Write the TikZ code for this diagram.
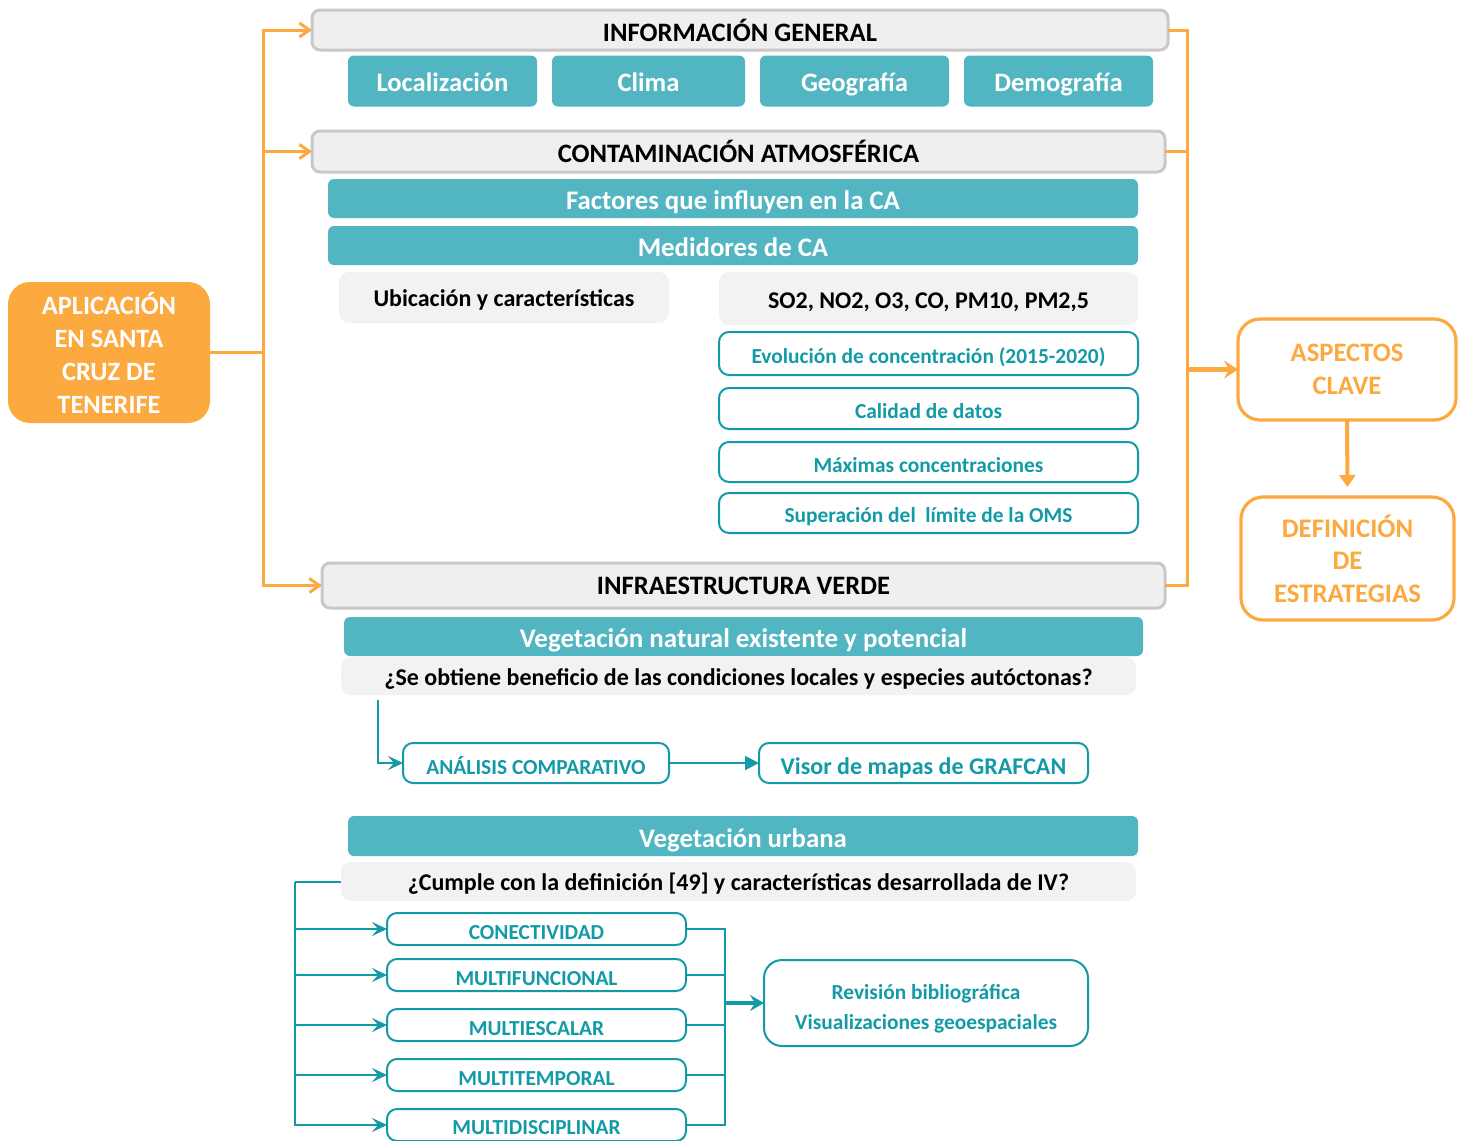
\documentclass[tikz,border=0pt]{standalone}
\usepackage{fontspec}
\setmainfont{Carlito}
\usetikzlibrary{arrows.meta}

\definecolor{naranja}{RGB}{252,169,64}
\definecolor{turquesa}{RGB}{82,181,194}
\definecolor{tealine}{RGB}{18,154,166}
\definecolor{grisborde}{RGB}{200,200,200}
\definecolor{grisfondo}{RGB}{239,239,239}
\definecolor{grisclaro}{RGB}{242,242,242}

\begin{document}
\begin{tikzpicture}[x=0.5pt,y=-0.5pt,
	every node/.style={outer sep=0pt, inner sep=2pt},
	sz/.style 2 args={minimum width=#1*0.5pt, minimum height=#2*0.5pt},
	fs/.style 2 args={font=\fontsize{#1}{#2}\selectfont\bfseries},
	baja/.code={\def\bajada{#1}},   % how far the text sits below the centre
	bajar/.style={baja=1.5pt, execute at begin node={\setbox0=\hbox\bgroup},
		execute at end node={\egroup\setbox2=\hbox{\lower\bajada\copy0}\ht2=\ht0\dp2=\dp0\box2}},
	cabecera/.style={draw=grisborde, fill=grisfondo, line width=1.5pt, rounded corners=4pt, fs={13.3}{15}},
	relleno/.style={fill=turquesa, text=white, rounded corners=3pt, bajar},
	pregunta/.style={fill=grisclaro, rounded corners=5pt, fs={12}{14}, bajar},
	marco/.style={draw=tealine, line width=1pt, text=tealine, rounded corners=5pt, fs={10.7}{13}, bajar},
	bloque/.style={draw=naranja, line width=1.6pt, fill=white, text=naranja, rounded corners=11pt, align=center},
	linnar/.style={draw=naranja, line width=1.5pt},
	flechanar/.style={linnar, -{Straight Barb[length=5pt,width=7pt]}},
	lintur/.style={draw=tealine, line width=1pt},
	flechatur/.style={lintur, -{Stealth[length=7.5pt,width=7pt,inset=3pt]}}]

	\useasboundingbox (0,0) rectangle (1466,1140);   % page = reference frame

	% left block and the three headers
	\node[fill=naranja, text=white, rounded corners=11pt, align=center, sz={202}{141}, fs={13.2}{16.5}] (aplicacion) at (109,352.5) {APLICACIÓN\\EN SANTA\\CRUZ DE\\TENERIFE};
	\node[cabecera, sz={856}{40}] (info) at (740,30) {INFORMACIÓN GENERAL};
	\node[cabecera, sz={853}{41}] (conta) at (738.5,151.5) {CONTAMINACIÓN ATMOSFÉRICA};
	\node[cabecera, sz={843}{45}] (infra) at (743.5,585.5) {INFRAESTRUCTURA VERDE};

	% informacion general
	\node[relleno, sz={189}{51}, fs={13.3}{15}, baja=0.5pt] (loc) at (442.5,81) {Localización};
	\node[relleno, sz={193}{51}, fs={13.3}{15}, baja=0.5pt] (clima) at (648.5,81) {Clima};
	\node[relleno, sz={189}{51}, fs={13.3}{15}] (geo) at (854.5,81) {Geografía};
	\node[relleno, sz={189}{51}, fs={13.3}{15}] (demo) at (1058.5,81) {Demografía};

	% contaminacion atmosferica
	\node[relleno, sz={810}{39}, fs={13.4}{15}, baja=2pt] (factores) at (733,198.5) {Factores que influyen en la CA};
	\node[relleno, sz={810}{39}, fs={13.4}{15}, baja=1pt] (medidores) at (733,245.5) {Medidores de CA};
	\node[pregunta, sz={330}{51}, baja=1pt] (ubic) at (504,297.5) {Ubicación y características};
	\node[pregunta, sz={419}{53}, baja=2pt] (gases) at (928.5,298.5) {SO2, NO2, O3, CO, PM10, PM2,5};
	\node[marco, sz={419}{43}, baja=2pt] (evol) at (928.5,353.5) {Evolución de concentración (2015-2020)};
	\node[marco, sz={419}{41}] (calidad) at (928.5,408.5) {Calidad de datos};
	\node[marco, sz={419}{40}] (maximas) at (928.5,462) {Máximas concentraciones};
	\node[marco, sz={419}{40}, baja=2pt] (superacion) at (928.5,513) {Superación del~ límite de la OMS};

	% infraestructura verde
	\node[relleno, sz={799}{39}, fs={13.5}{15}, baja=2pt] (vegnat) at (743.5,636.5) {Vegetación natural existente y potencial};
	\node[pregunta, sz={795}{38}] (preg1) at (738.5,676) {¿Se obtiene beneficio de las condiciones locales y especies autóctonas?};
	\node[marco, sz={266}{40}] (analisis) at (536,763) {ANÁLISIS COMPARATIVO};
	\node[marco, sz={329}{40}, fs={12}{14}, baja=2.5pt] (visor) at (923.5,763) {Visor de mapas de GRAFCAN};
	\node[relleno, sz={790}{40}, fs={13.4}{15}, baja=2pt] (vegurb) at (743,836) {Vegetación urbana};
	\node[pregunta, sz={795}{39}, baja=1pt] (preg2) at (738.5,881.5) {¿Cumple con la definición [49] y características desarrollada de IV?};
	\node[marco, sz={299}{32}, baja=2pt] (conect) at (536.5,929) {CONECTIVIDAD};
	\node[marco, sz={299}{32}, baja=2pt] (mfunc) at (536.5,975) {MULTIFUNCIONAL};
	\node[marco, sz={299}{32}, baja=2pt] (mesc) at (536.5,1025) {MULTIESCALAR};
	\node[marco, sz={299}{32}, baja=2pt] (mtemp) at (536.5,1075) {MULTITEMPORAL};
	\node[marco, sz={299}{32}, baja=1.5pt] (mdisc) at (536.5,1125) {MULTIDISCIPLINAR};
	\node[marco, sz={324}{86}, fs={10.7}{15}, rounded corners=9pt, baja=2.5pt] (revision) at (926,1003)
		{\begin{tabular}{@{}c@{}}Revisión bibliográfica\\Visualizaciones geoespaciales\end{tabular}};

	% right blocks
	\node[bloque, sz={218}{101}, fs={13.3}{16.5}] (aspectos) at (1347,369.5) {ASPECTOS\\CLAVE};
	\node[bloque, sz={213}{123}, fs={13.4}{16.25}] (definicion) at (1347.5,558.5) {DEFINICIÓN\\DE\\ESTRATEGIAS};

	% orange connectors
	\coordinate (troncoL) at (263,352.5);
	\coordinate (troncoR) at (1187,369.5);
	\draw[linnar] (aplicacion.east) -- (troncoL);
	\foreach \n in {info,conta,infra}
		\draw[flechanar] (troncoL) |- (\n.west);
	\foreach \n in {info,conta,infra}
		\draw[linnar] (\n.east) -| (troncoR);
	\draw[linnar, line width=2.4pt, -{Stealth[length=7pt,width=9pt,inset=2.5pt]}] (troncoR) -- (aspectos.west);
	\draw[linnar, line width=2pt, -{Triangle[length=6pt,width=8pt]}, shorten >=5pt] (aspectos.south) -- (definicion.north);

	% teal connectors
	\coordinate (q1) at (378,700);
	\coordinate (q2) at (295,881.5);
	\coordinate (q3) at (725,1003);
	\draw[flechatur] (q1) |- (analisis.west);
	\draw[lintur, -{Triangle[length=7pt,width=7pt]}] (analisis.east) -- (visor.west);
	\draw[lintur] (preg2.west) -- (q2);
	\foreach \n in {conect,mfunc,mesc,mtemp,mdisc}{
		\draw[flechatur] (q2) |- (\n.west);
		\draw[lintur] (\n.east) -| (q3);
	}
	\draw[lintur, line width=2pt, -{Stealth[length=7pt,width=8pt,inset=2.5pt]}] (q3) -- (revision.west);

\end{tikzpicture}
\end{document}
